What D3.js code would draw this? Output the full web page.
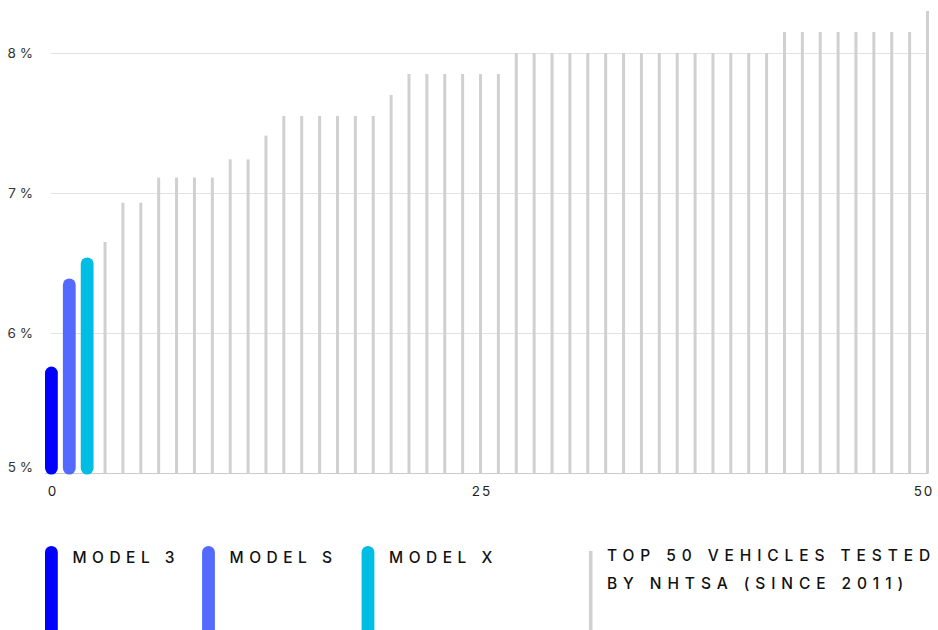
<!DOCTYPE html>
<meta charset="utf-8">
<script src="https://d3js.org/d3.v7.min.js"></script>
<style>
  body { margin: 0; background: #fff; }
  text { font-family: Inter, "DejaVu Sans", sans-serif; }
</style>
<div id="my_dataviz"></div>
<script>
// data: rate (%) per vehicle, ranked
var teslaModels = ["MODEL 3", "MODEL S", "MODEL X"];
var teslaValues = [5.76, 6.39, 6.54];
var otherValues = [6.65, 6.93, 6.93, 7.11, 7.11, 7.11, 7.11, 7.24, 7.24, 7.41,
  7.55, 7.55, 7.55, 7.55, 7.55, 7.55, 7.70,
  7.85, 7.85, 7.85, 7.85, 7.85, 7.85,
  8.00, 8.00, 8.00, 8.00, 8.00, 8.00, 8.00, 8.00, 8.00, 8.00, 8.00, 8.00, 8.00, 8.00, 8.00,
  8.15, 8.15, 8.15, 8.15, 8.15, 8.15, 8.15, 8.15, 8.30];
var yTicks = [5, 6, 7, 8];
var xTicks = [0, 24, 49];
var xTickLabels = ["0", "25", "50"];
var otherLabel = ["TOP 50 VEHICLES TESTED", "BY NHTSA (SINCE 2011)"];

var teslaColors = ["#0000ff", "#5469ff", "#00bde3"];
var grey = "#d0d0d0";

var width = 938, height = 630;

var svg = d3.select("#my_dataviz")
  .append("svg")
  .attr("width", width)
  .attr("height", height);

var x = d3.scaleLinear()
  .domain([0, 49])
  .range([51.4, 927.5]);

var y = d3.scaleLinear()
  .domain([5, 8])
  .range([473, 53]);

// gridlines
svg.append("g")
  .selectAll("line")
  .data(yTicks)
  .join("line")
  .attr("x1", function(d) { return d == 5 ? 45 : 50.5; })
  .attr("x2", 928.5)
  .attr("y1", function(d) { return y(d) + 0.5; })
  .attr("y2", function(d) { return y(d) + 0.5; })
  .attr("stroke", function(d) { return d == 5 ? "#cccccc" : "#e2e2e2"; })
  .attr("stroke-width", 1);

// y labels
svg.append("g")
  .selectAll("text")
  .data(yTicks)
  .join("text")
  .attr("x", 33)
  .attr("y", function(d) { return y(d) + (d == 5 ? -6 : 0); })
  .attr("dy", "0.35em")
  .attr("text-anchor", "end")
  .attr("font-size", 13.5)
  .attr("fill", "#333")
  .text(function(d) { return d + " %"; });

// x axis labels
var xAxis = svg.append("g")
  .attr("transform", "translate(0," + 486 + ")")
  .call(d3.axisBottom(x).tickValues(xTicks).tickSize(0).tickPadding(0)
    .tickFormat(function(d, i) { return xTickLabels[i]; }));
xAxis.select(".domain").remove();
xAxis.selectAll("text")
  .attr("font-family", "Inter, sans-serif")
  .attr("font-size", 13.5)
  .attr("fill", "#222")
  .attr("letter-spacing", 2)
  .attr("dx", function(d, i) { return i == 2 ? -4 : 1; });

// grey bars
svg.append("g")
  .selectAll("rect")
  .data(otherValues)
  .join("rect")
  .attr("x", function(d, i) { return x(i + 3) - 1.5; })
  .attr("y", function(d) { return y(d); })
  .attr("width", 3)
  .attr("height", function(d) { return y(5) - y(d); })
  .attr("fill", grey);

// tesla bars
svg.append("g")
  .selectAll("rect")
  .data(teslaValues)
  .join("rect")
  .attr("x", function(d, i) { return x(i) - 6.4; })
  .attr("y", function(d) { return y(d); })
  .attr("width", 12.8)
  .attr("height", function(d) { return y(5) - y(d) + 1.5; })
  .attr("rx", 6.4)
  .attr("fill", function(d, i) { return teslaColors[i]; });

// legend
var legendX = [51.4, 208.5, 368];
var leg = svg.append("g")
  .selectAll("g")
  .data(teslaModels)
  .join("g")
  .attr("transform", function(d, i) { return "translate(" + legendX[i] + ",0)"; });
leg.append("rect")
  .attr("x", -6.4)
  .attr("y", 546)
  .attr("width", 12.8)
  .attr("height", 120)
  .attr("rx", 6.4)
  .attr("fill", function(d, i) { return teslaColors[i]; });
leg.append("text")
  .attr("x", 21)
  .attr("y", 563)
  .attr("font-size", 15.5)
  .attr("font-weight", 500)
  .attr("letter-spacing", 5.5)
  .attr("fill", "#111")
  .text(function(d) { return d; });

var legOther = svg.append("g").attr("transform", "translate(590.5,0)");
legOther.append("rect")
  .attr("x", -1.5)
  .attr("y", 551)
  .attr("width", 3.5)
  .attr("height", 100)
  .attr("fill", grey);
legOther.selectAll("text")
  .data(otherLabel)
  .join("text")
  .attr("x", 16.5)
  .attr("y", function(d, i) { return 561 + i * 28; })
  .attr("font-size", 15.5)
  .attr("font-weight", 500)
  .attr("letter-spacing", 5.9)
  .attr("fill", "#111")
  .text(function(d) { return d; });
</script>
